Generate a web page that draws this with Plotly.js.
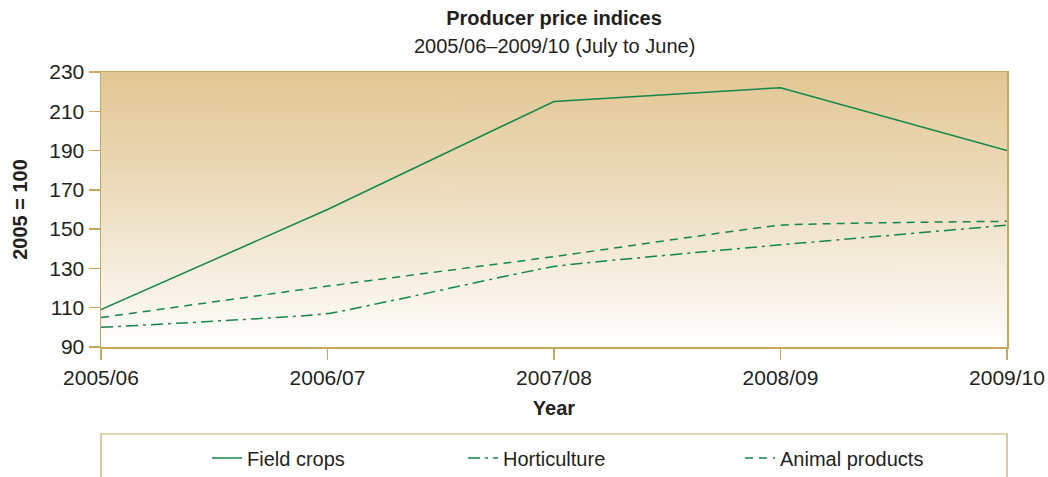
<!DOCTYPE html>
<html>
<head>
<meta charset="utf-8">
<script src="https://cdn.plot.ly/plotly-3.0.1.min.js"></script>
<style>
  html, body { margin: 0; padding: 0; background: #ffffff; }
  #chart { width: 1048px; height: 477px; }
</style>
</head>
<body>
<div id="chart"></div>
<script>
const years = ["2005/06", "2006/07", "2007/08", "2008/09", "2009/10"];
const fieldCrops = [109, 160, 215, 222, 190];
const horticulture = [100, 107, 131, 142, 152];
const animalProducts = [105, 121, 136, 152, 154];
const seriesNames = ["Field crops", "Horticulture", "Animal products"];

const GREEN = "#13874b";
const TAN = "#c9a75c";
const TEXT = "#231f20";
const FONT = "'Liberation Sans', Arial, Helvetica, sans-serif";

// gradient background image for the plot area
function gradientURL() {
  const c = document.createElement("canvas");
  c.width = 4; c.height = 256;
  const g = c.getContext("2d");
  const grd = g.createLinearGradient(0, 0, 0, 256);
  grd.addColorStop(0, "rgb(226,199,147)");
  grd.addColorStop(0.5, "rgb(238,224,196)");
  grd.addColorStop(1, "rgb(255,255,255)");
  g.fillStyle = grd;
  g.fillRect(0, 0, 4, 256);
  return c.toDataURL("image/png");
}

const traces = [
  { x: years, y: fieldCrops, name: seriesNames[0], type: "scatter", mode: "lines",
    line: { color: GREEN, width: 1.5 }, legend: "legend" },
  { x: years, y: horticulture, name: seriesNames[1], type: "scatter", mode: "lines",
    line: { color: GREEN, width: 1.5, dash: "12px,5px,3px,5px", shape: "spline", smoothing: 0.3 }, legend: "legend2" },
  { x: years, y: animalProducts, name: seriesNames[2], type: "scatter", mode: "lines",
    line: { color: GREEN, width: 1.5, dash: "8px,6px", shape: "spline", smoothing: 0.3 }, legend: "legend3" }
];

const legendBase = {
  orientation: "h", yanchor: "middle", xanchor: "left", y: -(458 - 347) / 275,
  bgcolor: "rgba(0,0,0,0)", borderwidth: 0,
  font: { family: FONT, size: 20, color: TEXT }
};

const layout = {
  width: 1048, height: 477,
  margin: { l: 101, r: 41, t: 72, b: 130, autoexpand: false },
  paper_bgcolor: "#ffffff",
  plot_bgcolor: "rgba(0,0,0,0)",
  font: { family: FONT, color: TEXT, size: 20 },
  title: {
    text: "<b>Producer price indices</b>",
    font: { family: FONT, size: 20, color: TEXT },
    x: 0.5, xref: "paper", xanchor: "center",
    y: 1 - 18 / 477, yref: "container", yanchor: "middle"
  },
  annotations: [{
    text: "2005/06–2009/10 (July to June)", showarrow: false,
    xref: "paper", yref: "paper", x: 0.5, y: 1 + 26 / 275, xanchor: "center", yanchor: "middle",
    font: { family: FONT, size: 20, color: TEXT }
  }],
  xaxis: {
    type: "category", range: [0, 4],
    showline: true, linecolor: TAN, linewidth: 1.5, mirror: true,
    ticks: "outside", ticklen: 11, tickcolor: TAN, tickwidth: 1.5,
    showgrid: false, zeroline: false,
    tickfont: { family: FONT, size: 21, color: TEXT },
    title: { text: "<b>Year</b>", font: { family: FONT, size: 20, color: TEXT }, standoff: 13 }
  },
  yaxis: {
    range: [90, 230], dtick: 20, tick0: 90,
    showline: true, linecolor: TAN, linewidth: 1.5, mirror: true,
    ticks: "outside", ticklen: 11, tickcolor: TAN, tickwidth: 1.5,
    showgrid: false, zeroline: false,
    tickfont: { family: FONT, size: 21, color: TEXT },
    title: { text: "<b>2005 = 100</b>", font: { family: FONT, size: 20, color: TEXT }, standoff: 16 }
  },
  images: [{
    source: gradientURL(), xref: "paper", yref: "paper",
    x: 0, y: 1, sizex: 1, sizey: 1, sizing: "stretch", layer: "below"
  }],
  shapes: [{
    type: "rect", xref: "paper", yref: "paper",
    x0: 0, x1: 1, y0: -0.5, y1: -(434 - 347) / 275,
    line: { color: TAN, width: 1.2 }, fillcolor: "rgba(0,0,0,0)"
  }],
  legend: Object.assign({}, legendBase, { x: (207 - 101) / 906 }),
  legend2: Object.assign({}, legendBase, { x: (463 - 101) / 906 }),
  legend3: Object.assign({}, legendBase, { x: (740 - 101) / 906 }),
  showlegend: true
};

Plotly.newPlot("chart", traces, layout, { displayModeBar: false, staticPlot: true });
</script>
</body>
</html>
